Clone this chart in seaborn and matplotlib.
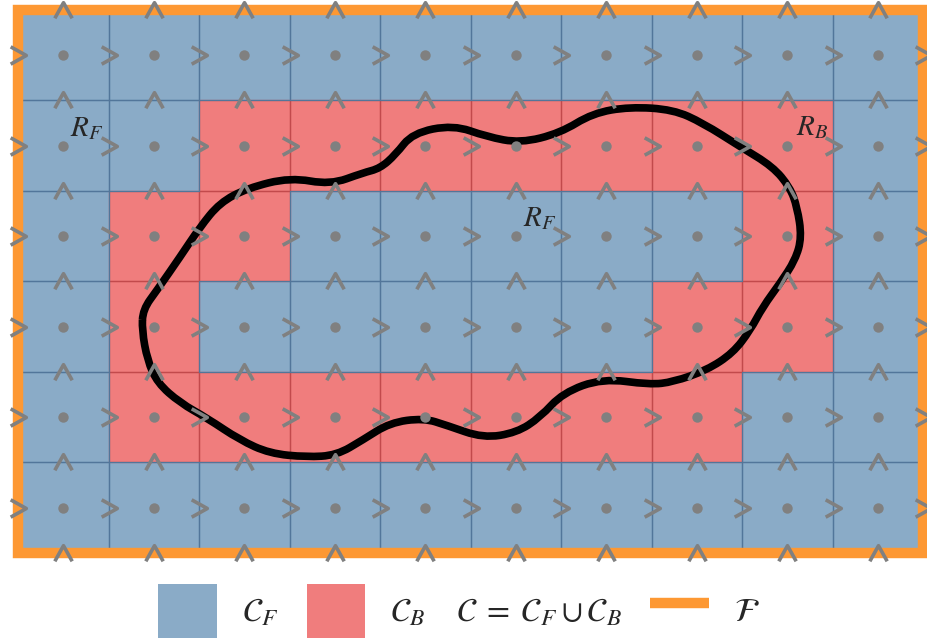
import numpy as np
import matplotlib
matplotlib.use("Agg")
import matplotlib.pyplot as plt
from matplotlib.colors import ListedColormap
from matplotlib.patches import Rectangle, Patch, PathPatch
from matplotlib.lines import Line2D
from matplotlib.path import Path
import seaborn as sns

# cell classes, row 0 at top: 0 = C_F (free), 1 = C_B (boundary)
cell_type = np.array([
    [0, 0, 0, 0, 0, 0, 0, 0, 0, 0],
    [0, 0, 1, 1, 1, 1, 1, 1, 1, 0],
    [0, 1, 1, 0, 0, 0, 0, 0, 1, 0],
    [0, 1, 0, 0, 0, 0, 0, 1, 1, 0],
    [0, 1, 1, 1, 1, 1, 1, 1, 0, 0],
    [0, 0, 0, 0, 0, 0, 0, 0, 0, 0],
])

# closed interface curve, in cell units (x right, y down)
curve_x = [1.38, 1.54, 1.79, 2.01, 2.23, 2.53, 3.01, 3.45, 3.81, 4.00, 4.17, 4.36,
           4.81, 5.18, 5.55, 5.99, 6.35, 6.76, 7.24, 7.57, 7.98, 8.34, 8.53, 8.61,
           8.66, 8.59, 8.42, 8.23, 8.09, 7.90, 7.61, 7.24, 6.98, 6.46, 6.02, 5.77,
           5.51, 5.14, 4.74, 4.48, 4.11, 3.81, 3.52, 3.19, 2.78, 2.45, 2.09, 1.79,
           1.54, 1.43, 1.37]
curve_y = [3.31, 3.09, 2.73, 2.40, 2.13, 1.97, 1.85, 1.93, 1.80, 1.75, 1.60, 1.36,
           1.27, 1.40, 1.47, 1.36, 1.14, 1.07, 1.10, 1.25, 1.51, 1.73, 1.96, 2.18,
           2.51, 2.76, 3.02, 3.28, 3.54, 3.79, 3.98, 4.11, 4.14, 4.07, 4.23, 4.50,
           4.67, 4.73, 4.59, 4.51, 4.56, 4.75, 4.92, 4.94, 4.90, 4.75, 4.51, 4.34,
           4.12, 3.87, 3.54]

region_labels = [r"$R_F$", r"$R_B$", r"$R_F$"]
label_x = [0.76, 8.77, 5.76]
label_y = [1.30, 1.29, 2.30]

legend_labels = [r"$\mathcal{C}_F$",
                 r"$\mathcal{C}_B\quad\;\mathcal{C}\;=\;\mathcal{C}_F \cup \mathcal{C}_B$",
                 r"$\mathcal{F}$"]

blue = "#8aabc7"
red = "#f07d7d"
blue_edge = "#52769a"
red_edge = "#c24a4c"
orange = "#fd9833"
grey = "#808080"

sns.set_style("white")
plt.rcParams["mathtext.fontset"] = "stix"

nrows, ncols = cell_type.shape
fig = plt.figure(figsize=(9.27, 6.39), dpi=100)
ax = fig.add_axes([18 / 927, 1 - 553 / 639, 905 / 927, 543 / 639])

sns.heatmap(cell_type, cmap=ListedColormap([blue, red]), vmin=0, vmax=1,
            cbar=False, xticklabels=False, yticklabels=False, ax=ax)

# cell edges: red cells first, blue on top
for kind, ec in [(1, red_edge), (0, blue_edge)]:
    for i in range(nrows):
        for j in range(ncols):
            if cell_type[i, j] == kind:
                ax.add_patch(Rectangle((j, i), 1, 1, fill=False, edgecolor=ec,
                                       lw=0.9, zorder=2))

# domain border
ax.add_patch(Rectangle((0, 0), ncols, nrows, fill=False, edgecolor=orange,
                       lw=7.5, clip_on=False, zorder=3))

# interface curve: closed quadratic spline with the read points as control points
pts = np.column_stack([curve_x, curve_y])
mids = (pts + np.roll(pts, -1, axis=0)) / 2
verts = [mids[-1]]
codes = [Path.MOVETO]
for p, m in zip(pts, mids):
    verts += [p, m]
    codes += [Path.CURVE3, Path.CURVE3]
ax.add_patch(PathPatch(Path(verts, codes), fill=False, edgecolor="black",
                       lw=5.5, joinstyle="round", zorder=4))

# chevron markers on faces
right_mark = Path([(-0.9, 1), (0.9, 0), (-0.9, -1)],
                  [Path.MOVETO, Path.LINETO, Path.LINETO])
up_mark = Path([(-1, -0.9), (0, 0.9), (1, -0.9)],
               [Path.MOVETO, Path.LINETO, Path.LINETO])

vx, vy = np.meshgrid(np.arange(ncols + 1), np.arange(nrows) + 0.5)
ax.plot(vx.ravel(), vy.ravel(), ls="none", marker=right_mark, ms=12.5,
        mec=grey, mfc="none", mew=2.6, clip_on=False, zorder=5)
hx, hy = np.meshgrid(np.arange(ncols) + 0.5, np.arange(nrows + 1))
ax.plot(hx.ravel(), hy.ravel(), ls="none", marker=up_mark, ms=12.5,
        mec=grey, mfc="none", mew=2.6, clip_on=False, zorder=5)

# cell centres
cx, cy = np.meshgrid(np.arange(ncols) + 0.5, np.arange(nrows) + 0.5)
ax.plot(cx.ravel(), cy.ravel(), ls="none", marker="o", ms=7.5, color=grey,
        mew=0, zorder=6)

for t, x, y in zip(region_labels, label_x, label_y):
    ax.text(x, y, t, fontsize=21, ha="center", va="center", zorder=7)

ax.set_axis_off()

handles = [Patch(facecolor=blue, edgecolor="none"),
           Patch(facecolor=red, edgecolor="none"),
           Line2D([], [], color=orange, lw=7.5, solid_capstyle="butt")]
fig.legend(handles, legend_labels, loc="center", bbox_to_anchor=(0.495, 0.044),
           ncol=3, frameon=False, fontsize=24, handlelength=1.75,
           handleheight=2.1, handletextpad=0.75, columnspacing=0.85)

fig.savefig("out.png", dpi=100)
